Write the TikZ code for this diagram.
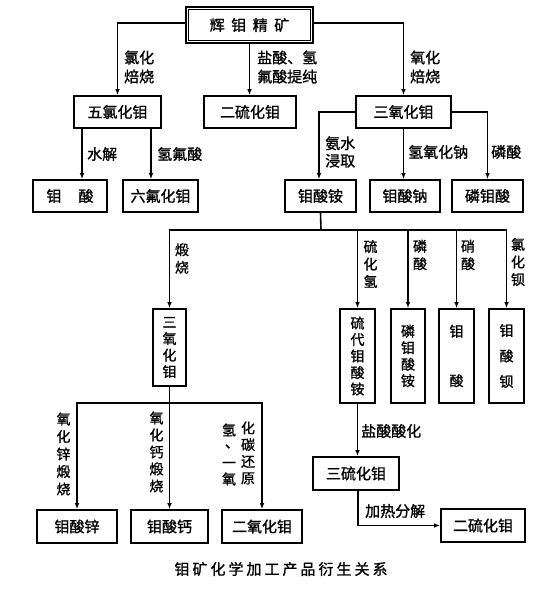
\documentclass[tikz,border=0pt]{standalone}
\usepackage{fontspec}
\newfontfamily\cjk[FakeBold=1.2]{Noto Sans CJK SC}
\usetikzlibrary{arrows.meta}
\begin{document}
\begin{tikzpicture}[x=1pt,y=-1pt,
  box/.style={draw,line width=1.6pt,inner sep=0pt,font=\cjk\fontsize{15}{19}\selectfont},
  vbox/.style={draw,line width=1.6pt,inner sep=0pt,align=center,font=\cjk\fontsize{14}{16.5}\selectfont},
  lab/.style={inner sep=0pt,align=left,anchor=west,font=\cjk\fontsize{15}{19}\selectfont},
  vlab/.style={inner sep=0pt,align=center,font=\cjk\fontsize{14}{17.5}\selectfont},
  conn/.style={line width=1.6pt},
  arr/.style={conn,-{Latex[length=6pt,width=4.5pt]}}]
\useasboundingbox (0,0) rectangle (556,602);
% top
\node[draw,line width=2.4pt,inner sep=0pt,minimum width=127pt,minimum height=36pt,font=\cjk\fontsize{15}{19}\selectfont] (top) at (249.5,25) {辉\hspace{6.5pt}钼\hspace{6.5pt}精\hspace{6.5pt}矿};
\draw[line width=0.9pt] ([xshift=3.5pt,yshift=-3.5pt]top.north west) rectangle ([xshift=-3.5pt,yshift=3.5pt]top.south east);
% row 2
\node[box,minimum width=87pt,minimum height=32pt] (mocl5) at (117.5,112) {五氯化钼};
\node[box,minimum width=92pt,minimum height=32pt] (mos2a) at (250,112) {二硫化钼};
\node[box,minimum width=95pt,minimum height=32pt] (moo3) at (403.5,112) {三氧化钼};
% row 3
\node[box,minimum width=74pt,minimum height=32pt] (hmo) at (70,196) {钼\hspace{17pt}酸};
\node[box,minimum width=75pt,minimum height=32pt] (mof6) at (160.5,196) {六氟化钼};
\node[box,minimum width=71pt,minimum height=32pt] (amm) at (320.5,196) {钼酸铵};
\node[box,minimum width=70pt,minimum height=32pt] (na) at (405,196) {钼酸钠};
\node[box,minimum width=71pt,minimum height=32pt] (pmo) at (487.5,196) {磷钼酸};
% vertical boxes
\node[vbox,minimum width=33pt,minimum height=77pt] (moo3v) at (169.5,347.5) {三\\氧\\化\\钼};
\node[vbox,minimum width=35pt,minimum height=94pt] (thio) at (357.5,356) {硫\\代\\钼\\酸\\铵};
\node[vbox,minimum width=34pt,minimum height=94pt] (pmoam) at (408,356) {磷\\钼\\酸\\铵};
\node[vbox,minimum width=35pt,minimum height=94pt] (hmob) at (456.5,356) {钼\\[33pt]酸};
\node[vbox,minimum width=35pt,minimum height=94pt] (bamo) at (506.5,356) {钼\\[9pt]酸\\[9pt]钡};
% bottom
\node[box,minimum width=80pt,minimum height=33pt] (zn) at (77,526.5) {钼酸锌};
\node[box,minimum width=77pt,minimum height=33pt] (ca) at (169.5,526.5) {钼酸钙};
\node[box,minimum width=80pt,minimum height=33pt] (moo2) at (262,526.5) {二氧化钼};
\node[box,minimum width=86pt,minimum height=33pt] (mos3) at (356,473.5) {三硫化钼};
\node[box,minimum width=84pt,minimum height=33pt] (mos2b) at (483,525.5) {二硫化钼};
% coordinates
\coordinate (xa) at (82,0);
\coordinate (xb) at (151,0);
\coordinate (busA) at (321,230);
\coordinate (busB) at (169.5,403);
% connectors
\draw[arr] ([yshift=2pt]top.west) -| (mocl5.north);
\draw[arr] (top.south) -- (top.south |- mos2a.north);
\draw[arr] ([yshift=2pt]top.east) -| (moo3.north);
\draw[arr] (mocl5.south -| xa) -- (hmo.north -| xa);
\draw[arr] (mocl5.south -| xb) -- (mof6.north -| xb);
\draw[arr] (moo3.west) -| ([xshift=-1.5pt]amm.north);
\draw[arr] (moo3.south) -- (moo3.south |- na.north);
\draw[arr] (moo3.east) -| (pmo.north);
\draw[conn] (amm.south) -- (busA);
\draw[arr] (busA) -| (moo3v.north);
\draw[arr] (busA) -| (thio.north);
\draw[arr] (busA) -| (pmoam.north);
\draw[arr] (busA) -| (hmob.north);
\draw[arr] (busA) -| (bamo.north);
\draw[conn] (moo3v.south) -- (busB);
\draw[arr] (busB) -| (zn.north);
\draw[arr] (busB) -- (ca.north);
\draw[arr] (busB) -| (moo2.north);
\draw[arr] (thio.south) -- (thio.south |- mos3.north);
\draw[arr] ([xshift=2pt]mos3.south) |- (mos2b.west);
% labels
\node[lab] (l1) at (124,67) {氯化\\焙烧};
\node[lab] (l2) at (257,67) {盐酸、氢\\氟酸提纯};
\node[lab] (l3) at (410,67) {氧化\\焙烧};
\node[lab] (l4) at (87,154) {水解};
\node[lab] (l5) at (157,154) {氢氟酸};
\node[lab,font=\cjk\fontsize{15}{17.5}\selectfont] (l6) at (325,152) {氨水\\浸取};
\node[lab] (l7) at (408,152) {氢氧化钠};
\node[lab] (l8) at (491,152) {磷酸};
\node[vlab] (l9) at (182,258.5) {煅\\烧};
\node[vlab] (l10) at (370.5,264) {硫\\化\\氢};
\node[vlab] (l11) at (420,255) {磷\\酸};
\node[vlab] (l12) at (468,255) {硝\\酸};
\node[vlab] (l13) at (518,262) {氯\\化\\钡};
\node[vlab] (l14) at (63.5,454) {氧\\化\\锌\\煅\\烧};
\node[vlab,font=\cjk\fontsize{14}{17}\selectfont] (l15) at (156.5,452) {氧\\化\\钙\\煅\\烧};
\node[vlab,font=\cjk\fontsize{14}{16.3}\selectfont] (l16) at (229,454.5) {氢\\\raisebox{4pt}{\hspace{6pt}、}\\一\\氧};
\node[vlab,font=\cjk\fontsize{14}{16.7}\selectfont] (l17) at (248,453) {化\\碳\\还\\原};
\node[lab] (l18) at (361,431) {盐酸酸化};
\node[lab] (l19) at (365,511) {加热分解};
\node[inner sep=0pt,font=\cjk\fontsize{15}{19}\selectfont] (cap) at (281,569) {钼\hspace{3pt}矿\hspace{3pt}化\hspace{3pt}学\hspace{3pt}加\hspace{3pt}工\hspace{3pt}产\hspace{3pt}品\hspace{3pt}衍\hspace{3pt}生\hspace{3pt}关\hspace{3pt}系};
\end{tikzpicture}
\end{document}
